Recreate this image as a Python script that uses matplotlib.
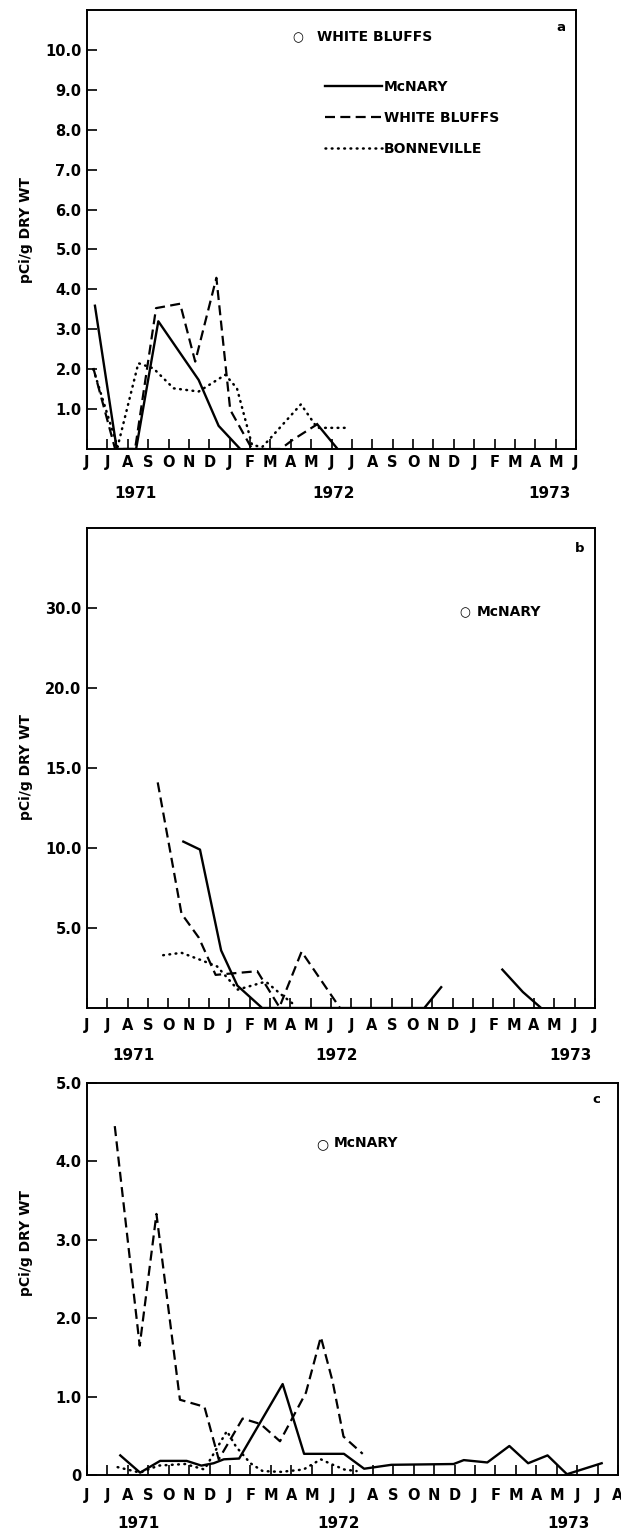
import numpy as np
import matplotlib.pyplot as plt

plt.rcParams['font.family'] = ['Liberation Sans Narrow', 'DejaVu Sans']
plt.rcParams['font.weight'] = 'bold'

# x = months after June 1971
MONTHS = ['J', 'J', 'A', 'S', 'O', 'N', 'D', 'J', 'F', 'M', 'A', 'M']
YEARS = ['1971', '1972', '1973']
YLABEL = 'pCi/g DRY WT'

# panel a
a_mcnary_x = [0.39, 1.46, 2.41, 3.5, 5.48, 6.46, 7.52, np.nan, 11.3, 12.3]
a_mcnary_y = [3.59, 0, 0, 3.2, 1.73, 0.58, 0, np.nan, 0.62, 0]
a_bluffs_x = [0.31, 1.38, 2.36, 3.39, 4.57, 5.31, 6.35, 7.03, 8.1, 9.5, 10.1, 11.3]
a_bluffs_y = [2.03, 0, 0, 3.53, 3.64, 2.19, 4.29, 0.98, 0, 0, 0.23, 0.62]
a_bonne_x = [0.31, 1.5, 2.52, 3.26, 4.25, 5.48, 6.79, 7.36, 8.1, 8.6, 9.0, 10.5, 11.3, 12.7]
a_bonne_y = [2.0, 0.05, 2.15, 2.02, 1.52, 1.44, 1.86, 1.52, 0.1, 0.05, 0.27, 1.12, 0.53, 0.53]

# panel b
b_mcnary_x = [4.74, 5.56, 6.6, 7.4, 8.62, 16.6, 17.43, np.nan, 20.44, 21.45, 22.35]
b_mcnary_y = [10.4, 9.9, 3.6, 1.4, 0, 0, 1.3, np.nan, 2.4, 1.0, 0]
b_bluffs_x = [3.48, 4.65, 5.5, 6.33, 8.38, 9.47, 10.56, 12.45]
b_bluffs_y = [14.1, 5.9, 4.4, 2.07, 2.3, 0.05, 3.52, 0]
b_bonne_x = [3.75, 4.65, 5.6, 6.4, 7.42, 8.8, 9.6, 10.3]
b_bonne_y = [3.3, 3.45, 3.0, 2.6, 1.15, 1.65, 0.8, 0.1]

# panel c
c_mcnary_x = [1.63, 2.6, 3.58, 4.88, 5.6, 6.2, 6.7, 7.45, 9.58, 10.63, 12.58, 13.57,
              14.9, 17.95, 18.45, 19.6, 20.68, 21.6, 22.55, 23.5, 25.2]
c_mcnary_y = [0.25, 0.03, 0.18, 0.18, 0.12, 0.15, 0.2, 0.21, 1.16, 0.27, 0.27, 0.08,
              0.13, 0.14, 0.19, 0.16, 0.37, 0.15, 0.25, 0.01, 0.15]
c_bluffs_x = [1.36, 2.58, 3.4, 4.55, 5.75, 6.45, 7.62, 8.5, 9.45, 10.72, 11.45, 12.02, 12.56, 13.5]
c_bluffs_y = [4.45, 1.65, 3.33, 0.96, 0.87, 0.2, 0.72, 0.65, 0.43, 1.05, 1.76, 1.2, 0.49, 0.27]
c_bonne_x = [1.5, 2.6, 3.5, 4.8, 5.75, 6.85, 7.3, 8.0, 8.6, 9.5, 10.6, 11.45, 11.95, 12.6, 13.2]
c_bonne_y = [0.1, 0.03, 0.12, 0.14, 0.07, 0.56, 0.36, 0.15, 0.05, 0.04, 0.07, 0.2, 0.14, 0.07, 0.05]

W, H = 621, 1535
fig = plt.figure(figsize=(W / 100, H / 100), dpi=100)


def box(left, top, right, bottom):
    return [left / W, 1 - bottom / H, (right - left) / W, (bottom - top) / H]


ax_a = fig.add_axes(box(87, 10, 576, 449))
ax_b = fig.add_axes(box(87, 528, 595, 1008))
ax_c = fig.add_axes(box(87, 1083, 618, 1475))

solid = dict(color='black', lw=1.7, linestyle='-')
dashed = dict(color='black', lw=1.6, linestyle=(0, (4.5, 2.4)))
dotted = dict(color='black', lw=1.8, linestyle=(0, (0.3, 2.2)), dash_capstyle='round')


def style(ax, nmonths, xpad, yearpad, year_x):
    ax.set_xlim(0, nmonths)
    ax.set_xticks(range(nmonths + 1))
    ax.set_xticklabels([MONTHS[i % 12] for i in range(nmonths + 1)], fontsize=10.5)
    ax.tick_params(axis='x', direction='in', length=7, width=1.2, pad=xpad)
    ax.tick_params(axis='y', direction='in', length=7, width=1.2, pad=4, labelsize=10.5)
    for s in ax.spines.values():
        s.set_linewidth(1.4)
    for yr, xm in zip(YEARS, year_x):
        ax.annotate(yr, xy=(xm, 0), xycoords=('data', 'axes fraction'),
                    xytext=(0, -yearpad), textcoords='offset points',
                    ha='center', va='center', fontsize=11)


# ---- panel a
l1, = ax_a.plot(a_mcnary_x, a_mcnary_y, label='McNARY', **solid)
l2, = ax_a.plot(a_bluffs_x, a_bluffs_y, label='WHITE BLUFFS', **dashed)
l3, = ax_a.plot(a_bonne_x, a_bonne_y, label='BONNEVILLE', **dotted)
ax_a.set_ylim(0, 11)
ax_a.set_yticks(range(1, 11))
ax_a.set_yticklabels(['%.1f' % v for v in range(1, 11)])
style(ax_a, 24, 4.5, 32, [2.4, 12.1, 22.7])
ax_a.legend(handles=[l1, l2, l3], loc='upper left', bbox_to_anchor=(0.487, 0.84),
            frameon=False, fontsize=10, handlelength=4.1, handletextpad=0.15,
            labelspacing=1.2, borderpad=0, borderaxespad=0)
ax_a.text(0.431, 0.938, '○', transform=ax_a.transAxes, ha='center', va='center',
          fontsize=9, family=['DejaVu Sans'])
ax_a.text(0.47, 0.938, 'WHITE BLUFFS', transform=ax_a.transAxes, ha='left', va='center', fontsize=10)
ax_a.text(0.969, 0.961, 'a', transform=ax_a.transAxes, ha='center', va='center', fontsize=9.5)

# ---- panel b  (scale above 20 is compressed by half)
def fwd(y):
    y = np.asarray(y, dtype=float)
    return np.where(y <= 20, y, 20 + (y - 20) / 2)


def inv(t):
    t = np.asarray(t, dtype=float)
    return np.where(t <= 20, t, 20 + (t - 20) * 2)


ax_b.plot(b_mcnary_x, b_mcnary_y, **solid)
ax_b.plot(b_bluffs_x, b_bluffs_y, **dashed)
ax_b.plot(b_bonne_x, b_bonne_y, **dotted)
ax_b.set_yscale('function', functions=(fwd, inv))
ax_b.set_ylim(0, 40)
ax_b.set_yticks([5, 10, 15, 20, 30])
ax_b.set_yticklabels(['5.0', '10.0', '15.0', '20.0', '30.0'])
ax_b.yaxis.set_minor_locator(plt.NullLocator())
style(ax_b, 25, 7, 34, [2.3, 12.3, 23.8])
ax_b.text(0.744, 0.823, '○', transform=ax_b.transAxes, ha='center', va='center',
          fontsize=9, family=['DejaVu Sans'])
ax_b.text(0.768, 0.825, 'McNARY', transform=ax_b.transAxes, ha='left', va='center', fontsize=10)
ax_b.text(0.969, 0.958, 'b', transform=ax_b.transAxes, ha='center', va='center', fontsize=9.5)

# ---- panel c
ax_c.plot(c_mcnary_x, c_mcnary_y, **solid)
ax_c.plot(c_bluffs_x, c_bluffs_y, **dashed)
ax_c.plot(c_bonne_x, c_bonne_y, **dotted)
ax_c.set_ylim(0, 5)
ax_c.set_yticks(range(0, 6))
ax_c.set_yticklabels(['0', '1.0', '2.0', '3.0', '4.0', '5.0'])
style(ax_c, 26, 9.5, 35, [2.5, 12.3, 23.6])
ax_c.text(0.4426, 0.844, '○', transform=ax_c.transAxes, ha='center', va='center',
          fontsize=10, family=['DejaVu Sans'])
ax_c.text(0.465, 0.846, 'McNARY', transform=ax_c.transAxes, ha='left', va='center', fontsize=10)
ax_c.text(0.96, 0.957, 'c', transform=ax_c.transAxes, ha='center', va='center', fontsize=9.5)

for yc in [230, 767, 1243]:
    fig.text(26 / W, 1 - yc / H, YLABEL, rotation=90, ha='center', va='center', fontsize=10)

fig.savefig('out.png', dpi=100, facecolor='white')
